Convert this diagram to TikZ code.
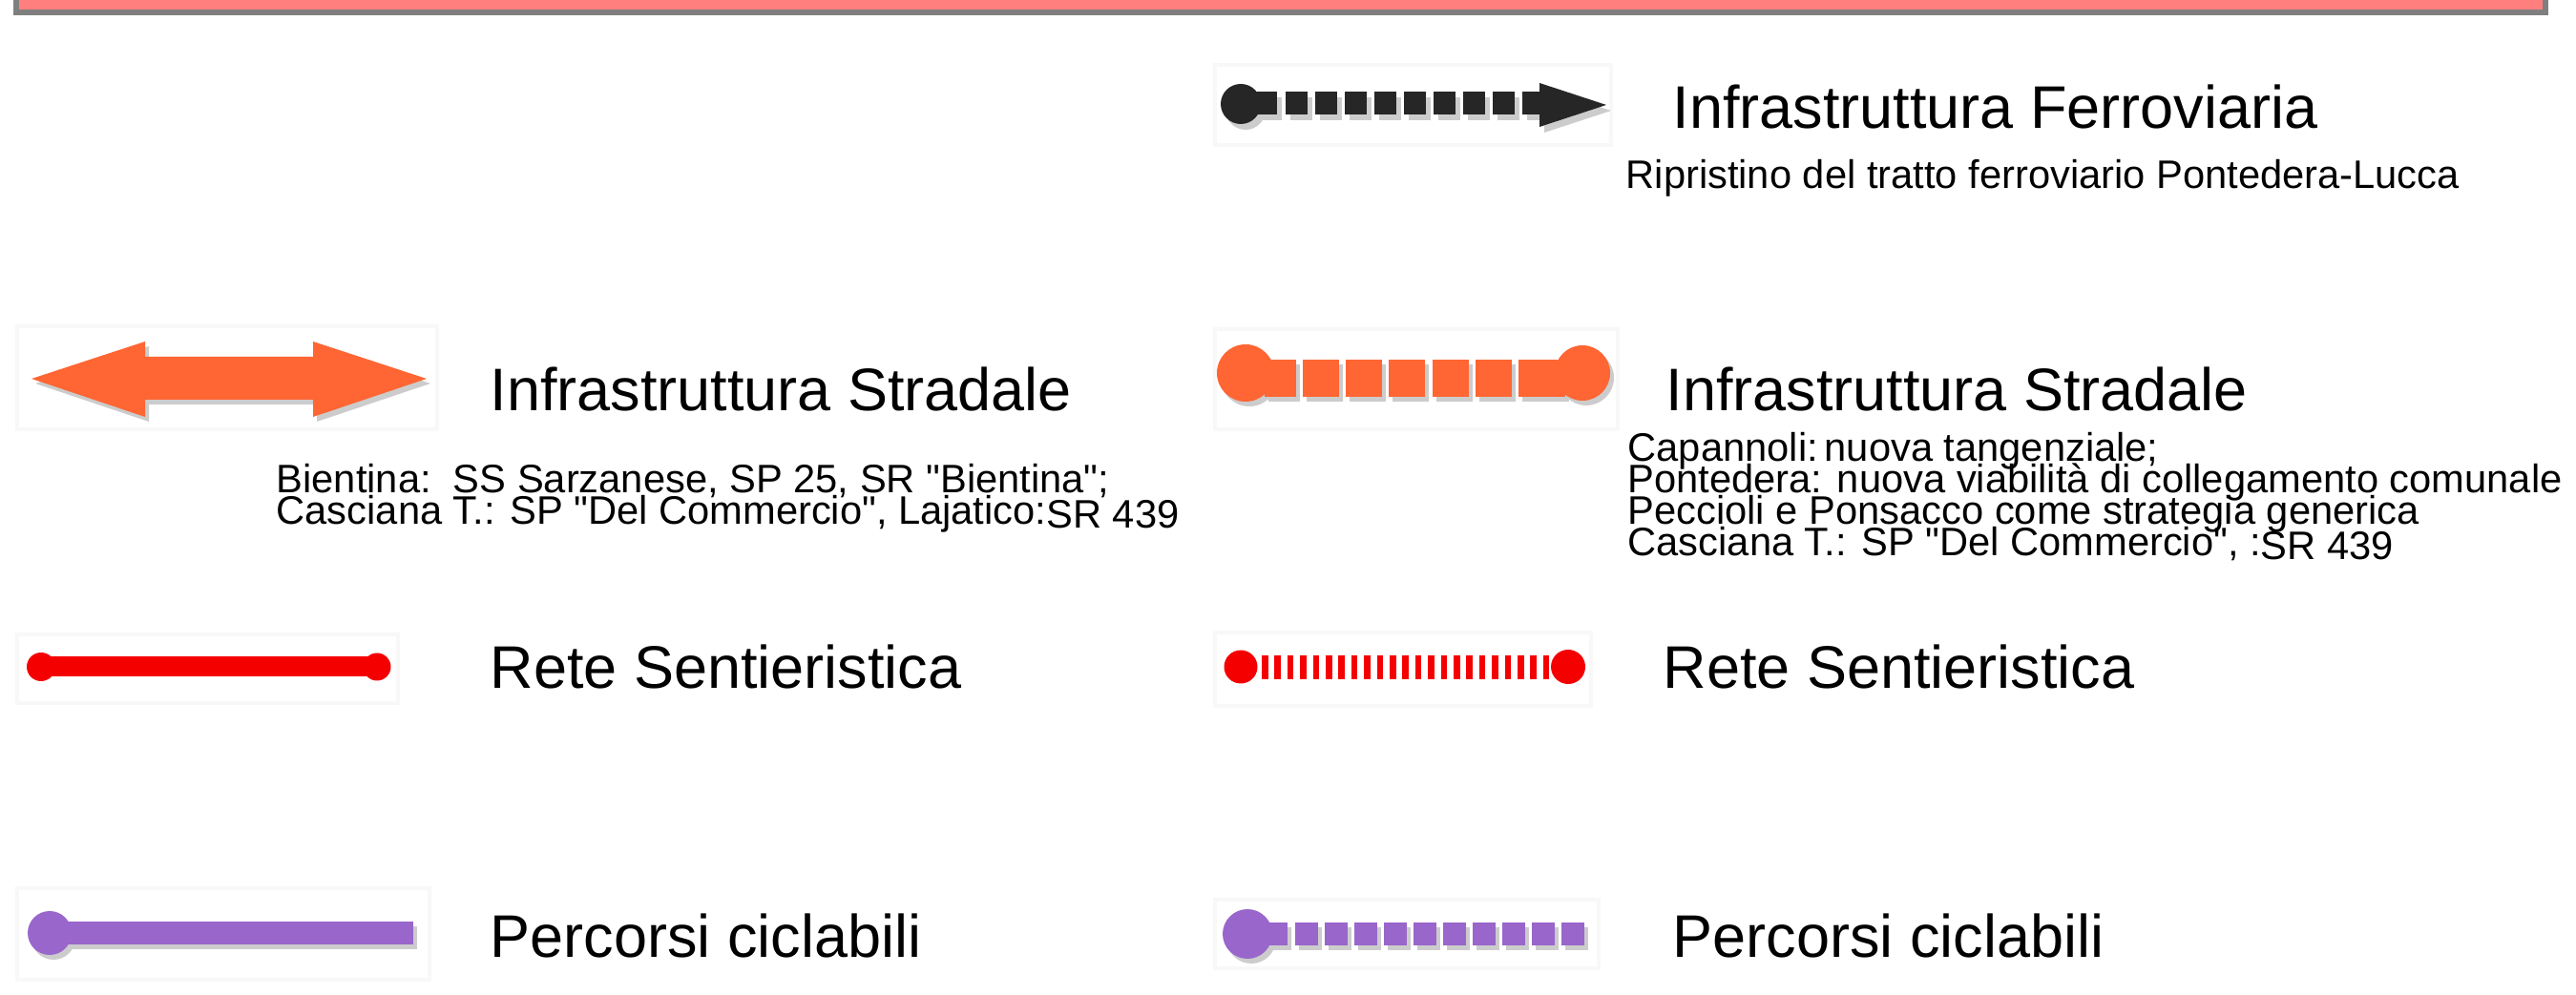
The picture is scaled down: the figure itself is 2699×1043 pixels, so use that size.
\documentclass[tikz,border=0pt]{standalone}
\usepackage{fontspec}
\setmainfont{Liberation Sans}[Ligatures=TeXOff]
\definecolor{pinkbar}{HTML}{FF7F7F}
\definecolor{barline}{HTML}{7F7F7F}
\definecolor{orng}{HTML}{FF6633}
\definecolor{rred}{HTML}{F50000}
\definecolor{purp}{HTML}{9966CC}
\definecolor{blk}{HTML}{262626}
\definecolor{shd}{HTML}{CCCCCC}
\definecolor{frm}{HTML}{F8F8F8}
\tikzset{
  head/.style={anchor=base west,inner sep=0pt,font=\fontsize{18.9}{22}\selectfont},
  desc/.style={anchor=base west,inner sep=0pt,font=\fontsize{12.5}{15}\selectfont},
  frame/.style={draw=frm,line width=1.2},
}
\newcommand\symFerro[1]{%
  \fill[#1] (1300,109) circle[radius=21];
  \fill[#1] (1315,96) rectangle (1338,120);
  \foreach \i in {0,...,7} \fill[#1] ({1347+31*\i},96) rectangle ++(23,24);
  \fill[#1] (1595,96) rectangle (1615,120);
  \fill[#1] (1613,87) -- (1683,110) -- (1613,133) -- cycle;}
\newcommand\symStradaA[1]{%
  \fill[#1] (33,397) -- (152,358) -- (152,374) -- (328,374) -- (328,358) -- (447,397)
    -- (328,437) -- (328,419) -- (152,419) -- (152,437) -- cycle;}
\newcommand\symStradaB[1]{%
  \fill[#1] (1305,391) circle[radius=30];
  \fill[#1] (1658,391) circle[radius=29];
  \fill[#1] (1325,377) rectangle (1358,416);
  \foreach \i in {0,...,4} \fill[#1] ({1365+45.2*\i},377) rectangle ++(38,39);
  \fill[#1] (1591,377) rectangle (1640,416);}
\newcommand\symCicloA[1]{%
  \fill[#1] (52,978) circle[radius=23];
  \fill[#1] (52,966) rectangle (433,990);}
\newcommand\symCicloB[1]{%
  \fill[#1] (1307,979) circle[radius=26];
  \fill[#1] (1325,967) rectangle (1349,991);
  \foreach \i in {0,...,9} \fill[#1] ({1357+31*\i},967) rectangle ++(23.5,24);}
\begin{document}
\begin{tikzpicture}[x=0.3pt,y=-0.3pt]
\useasboundingbox[fill=white] (0,0) rectangle (2699,1043);
% top bar
\fill[pinkbar] (17,-5) rectangle (2667,13);
\draw[barline,line width=2] (17,-5) -- (17,13) -- (2667,13) -- (2667,-5);
% faint frames
\draw[frame] (1273,68) rectangle (1688,152);
\draw[frame] (18,342) rectangle (458,450);
\draw[frame] (1273,345) rectangle (1695,450);
\draw[frame] (18,665) rectangle (417,737);
\draw[frame] (1273,663) rectangle (1667,740);
\draw[frame] (18,931) rectangle (450,1027);
\draw[frame] (1273,943) rectangle (1675,1015);
% symbols with shadows
\begin{scope}[shift={(5,6)}]\symFerro{shd}\end{scope}
\symFerro{blk}
\begin{scope}[shift={(4,5)}]\symStradaA{shd}\end{scope}
\symStradaA{orng}
\begin{scope}[shift={(4,5)}]\symStradaB{shd}\end{scope}
\symStradaB{orng}
% red path (solid)
\fill[rred] (43,688) rectangle (395,709);
\fill[rred] (43,699) circle[radius=15];
\fill[rred] (395,699) circle[radius=14.5];
% red path (dashed)
\fill[rred] (1300,699) circle[radius=17.5];
\fill[rred] (1643,699) circle[radius=18];
\foreach \i in {0,...,22} \fill[rred] ({1322+13.4*\i},687) rectangle ++(6.5,25);
\begin{scope}[shift={(4,5)}]\symCicloA{shd}\end{scope}
\symCicloA{purp}
\begin{scope}[shift={(4,5)}]\symCicloB{shd}\end{scope}
\symCicloB{purp}
% texts
\node[head] (hferro) at (1752,135) {Infrastruttura Ferroviaria};
\node[desc] (dferro) at (1703,198) {Ripristino del tratto ferroviario Pontedera-Lucca};
\node[head] (hstradaA) at (513,431) {Infrastruttura Stradale};
\node[head] (hstradaB) at (1745,431) {Infrastruttura Stradale};
\node[desc] (dA1) at (289,517) {Bientina:\ \ SS Sarzanese, SP 25, SR "Bientina";};
\node[desc] (dA2) at (289,550) {Casciana T.: SP "Del Commercio", Lajatico:\raisebox{-1pt}{SR 439}};
\node[desc] (dB1) at (1705,484) {Capannoli:\,nuova tangenziale;};
\node[desc] (dB2) at (1705,517) {Pontedera: nuova viabilità di collegamento comunale};
\node[desc] (dB3) at (1705,550) {Peccioli e Ponsacco come strategia generica};
\node[desc] (dB4) at (1705,583) {Casciana T.: SP "Del Commercio", :\raisebox{-1pt}{SR 439}};
\node[head] (hreteA) at (513,722) {Rete Sentieristica};
\node[head] (hreteB) at (1742,722) {Rete Sentieristica};
\node[head] (hcicloA) at (513,1003) {Percorsi ciclabili};
\node[head] (hcicloB) at (1752,1003) {Percorsi ciclabili};
\end{tikzpicture}
\end{document}
